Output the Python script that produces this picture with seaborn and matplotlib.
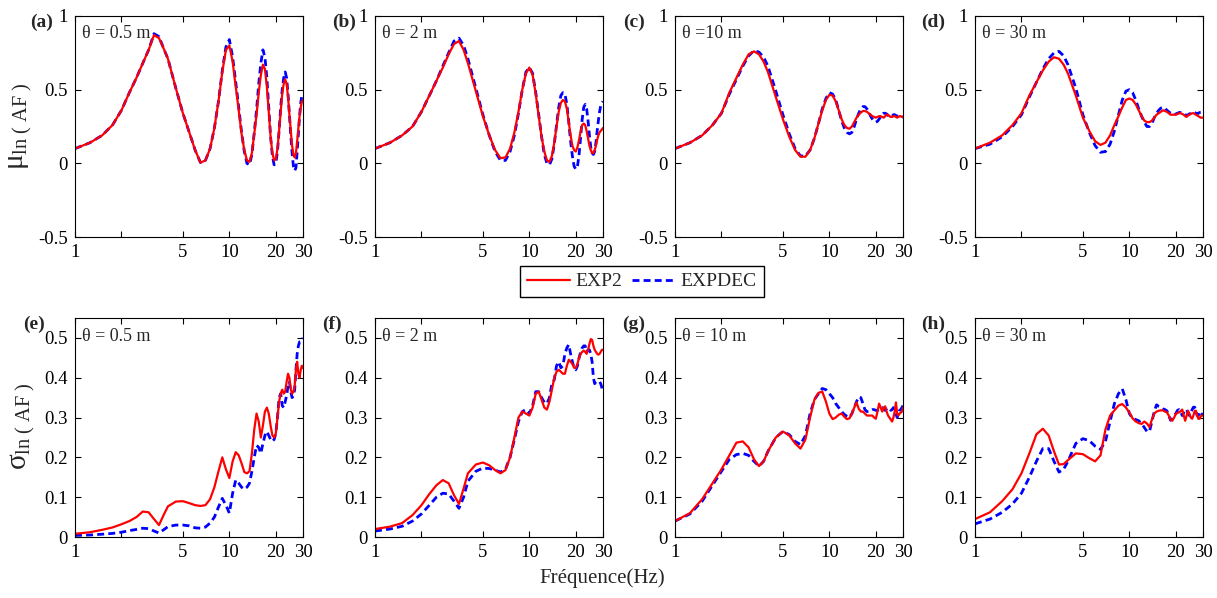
import numpy as np
import pandas as pd
import seaborn as sns
import matplotlib
matplotlib.use("Agg")
import matplotlib.pyplot as plt
from matplotlib.lines import Line2D
from matplotlib.ticker import FixedLocator, NullFormatter

## Data (frequency grid shared by all panels)
freq = [1, 1.25, 1.5, 1.75, 2, 2.25, 2.5, 2.75, 3, 3.25, 3.5, 3.75, 4,
        4.5, 5, 5.5, 6, 6.5, 7, 7.5, 8,
        8.5, 9, 9.5, 10, 10.5, 11, 11.5, 12, 12.5, 13,
        13.5, 14, 14.5, 15, 15.5, 16, 16.5, 17, 17.5, 18,
        18.5, 19, 19.5, 20, 20.5, 21, 21.5, 22, 22.5, 23,
        23.5, 24, 24.5, 25, 25.5, 26, 26.5, 27, 27.5, 28,
        28.5, 29, 29.5, 30]

# mean of ln(AF)
mu_exp2_05 = [0.10, 0.14, 0.19, 0.26, 0.36, 0.48, 0.58, 0.68, 0.77, 0.87, 0.85, 0.78, 0.71,
              0.51, 0.34, 0.21, 0.09, 0.005, 0.02, 0.10, 0.24,
              0.42, 0.62, 0.77, 0.80, 0.69, 0.52, 0.36, 0.20, 0.09, 0.02,
              0.01, 0.07, 0.20, 0.33, 0.48, 0.60, 0.67, 0.64, 0.52, 0.35,
              0.18, 0.07, 0.02, 0.03, 0.10, 0.22, 0.35, 0.47, 0.54, 0.57,
              0.54, 0.45, 0.33, 0.22, 0.12, 0.06, 0.04, 0.07, 0.15, 0.24,
              0.32, 0.38, 0.42, 0.43]
mu_expdec_05 = [0.10, 0.14, 0.19, 0.26, 0.36, 0.48, 0.58, 0.68, 0.77, 0.88, 0.86, 0.78, 0.71,
                0.51, 0.34, 0.21, 0.09, 0.005, 0.02, 0.10, 0.24,
                0.42, 0.63, 0.79, 0.84, 0.72, 0.55, 0.38, 0.21, 0.08, 0.00,
                -0.01, 0.06, 0.21, 0.36, 0.54, 0.68, 0.77, 0.72, 0.58, 0.38,
                0.18, 0.05, -0.01, 0.00, 0.08, 0.22, 0.38, 0.50, 0.58, 0.62,
                0.58, 0.47, 0.33, 0.19, 0.07, -0.02, -0.05, -0.03, 0.08, 0.20,
                0.32, 0.41, 0.46, 0.47]
mu_exp2_2 = [0.10, 0.14, 0.19, 0.25, 0.35, 0.46, 0.56, 0.65, 0.74, 0.81, 0.83, 0.77, 0.68,
             0.49, 0.32, 0.19, 0.09, 0.035, 0.04, 0.10, 0.21,
             0.35, 0.50, 0.61, 0.65, 0.60, 0.47, 0.32, 0.18, 0.08, 0.02,
             0.01, 0.05, 0.14, 0.25, 0.35, 0.41, 0.43, 0.42, 0.37, 0.28,
             0.19, 0.12, 0.09, 0.08, 0.11, 0.16, 0.22, 0.26, 0.27, 0.26,
             0.22, 0.17, 0.12, 0.09, 0.07, 0.07, 0.09, 0.12, 0.16, 0.19,
             0.21, 0.22, 0.23, 0.24]
mu_expdec_2 = [0.10, 0.14, 0.19, 0.25, 0.35, 0.46, 0.56, 0.66, 0.75, 0.83, 0.85, 0.80, 0.71,
               0.51, 0.33, 0.19, 0.08, 0.02, 0.02, 0.08, 0.19,
               0.34, 0.50, 0.62, 0.65, 0.61, 0.48, 0.33, 0.18, 0.06, 0.00,
               -0.01, 0.03, 0.13, 0.26, 0.38, 0.46, 0.48, 0.47, 0.40, 0.28,
               0.15, 0.05, -0.02, -0.04, -0.02, 0.06, 0.18, 0.30, 0.38, 0.40,
               0.37, 0.29, 0.19, 0.11, 0.07, 0.06, 0.08, 0.14, 0.22, 0.29,
               0.35, 0.39, 0.41, 0.42]
mu_exp2_10 = [0.10, 0.14, 0.19, 0.26, 0.34, 0.48, 0.58, 0.67, 0.74, 0.76, 0.74, 0.69, 0.62,
              0.45, 0.30, 0.18, 0.09, 0.045, 0.045, 0.09, 0.17,
              0.27, 0.36, 0.43, 0.465, 0.46, 0.42, 0.36, 0.30, 0.26, 0.24,
              0.235, 0.25, 0.28, 0.31, 0.33, 0.345, 0.355, 0.355, 0.35, 0.34,
              0.33, 0.32, 0.315, 0.31, 0.315, 0.32, 0.32, 0.315, 0.31, 0.32,
              0.33, 0.33, 0.32, 0.315, 0.315, 0.32, 0.32, 0.315, 0.31, 0.315,
              0.32, 0.32, 0.315, 0.315]
mu_expdec_10 = [0.10, 0.14, 0.19, 0.26, 0.34, 0.47, 0.57, 0.66, 0.73, 0.765, 0.755, 0.72, 0.66,
                0.49, 0.33, 0.20, 0.10, 0.05, 0.05, 0.09, 0.17,
                0.27, 0.37, 0.44, 0.48, 0.47, 0.43, 0.36, 0.29, 0.24, 0.21,
                0.20, 0.21, 0.25, 0.30, 0.34, 0.37, 0.385, 0.385, 0.37, 0.35,
                0.32, 0.30, 0.285, 0.28, 0.285, 0.30, 0.315, 0.33, 0.34, 0.34,
                0.335, 0.325, 0.315, 0.315, 0.32, 0.33, 0.33, 0.325, 0.32, 0.32,
                0.32, 0.315, 0.315, 0.315]
mu_exp2_30 = [0.10, 0.14, 0.19, 0.26, 0.34, 0.46, 0.55, 0.63, 0.69, 0.72, 0.71, 0.67, 0.61,
              0.46, 0.31, 0.22, 0.15, 0.125, 0.14, 0.19, 0.26,
              0.32, 0.38, 0.43, 0.44, 0.43, 0.40, 0.36, 0.32, 0.29, 0.28,
              0.28, 0.29, 0.31, 0.33, 0.34, 0.35, 0.36, 0.355, 0.35, 0.34,
              0.33, 0.33, 0.33, 0.33, 0.335, 0.34, 0.34, 0.335, 0.33, 0.32,
              0.315, 0.325, 0.33, 0.335, 0.34, 0.34, 0.335, 0.33, 0.325, 0.32,
              0.315, 0.31, 0.31, 0.31]
mu_expdec_30 = [0.10, 0.13, 0.18, 0.25, 0.33, 0.45, 0.55, 0.64, 0.71, 0.75, 0.76, 0.73, 0.67,
                0.51, 0.33, 0.21, 0.12, 0.075, 0.08, 0.13, 0.22,
                0.33, 0.43, 0.49, 0.50, 0.48, 0.43, 0.37, 0.32, 0.28, 0.25,
                0.25, 0.27, 0.31, 0.34, 0.36, 0.375, 0.38, 0.375, 0.36, 0.35,
                0.34, 0.335, 0.33, 0.335, 0.34, 0.345, 0.345, 0.34, 0.335, 0.33,
                0.325, 0.33, 0.335, 0.34, 0.345, 0.35, 0.345, 0.34, 0.335, 0.34,
                0.345, 0.345, 0.345, 0.345]

# standard deviation of ln(AF)
sd_exp2_05 = [0.008, 0.012, 0.018, 0.024, 0.032, 0.04, 0.05, 0.064, 0.062, 0.045, 0.03, 0.055, 0.077,
              0.089, 0.09, 0.085, 0.08, 0.078, 0.08, 0.095, 0.125,
              0.165, 0.20, 0.17, 0.148, 0.19, 0.213, 0.205, 0.185, 0.163, 0.16,
              0.165, 0.21, 0.27, 0.31, 0.29, 0.25, 0.28, 0.315, 0.325, 0.31,
              0.28, 0.255, 0.25, 0.26, 0.30, 0.34, 0.36, 0.37, 0.36, 0.365,
              0.39, 0.41, 0.40, 0.37, 0.36, 0.365, 0.38, 0.42, 0.44, 0.41,
              0.40, 0.42, 0.43, 0.425]
sd_expdec_05 = [0.004, 0.005, 0.007, 0.009, 0.012, 0.016, 0.019, 0.022, 0.021, 0.015, 0.01, 0.018, 0.026,
                0.03, 0.03, 0.028, 0.023, 0.022, 0.025, 0.035, 0.05,
                0.075, 0.097, 0.08, 0.06, 0.11, 0.143, 0.135, 0.125, 0.12, 0.125,
                0.135, 0.165, 0.20, 0.23, 0.225, 0.21, 0.235, 0.255, 0.265, 0.255,
                0.245, 0.24, 0.245, 0.26, 0.30, 0.35, 0.36, 0.33, 0.325, 0.34,
                0.355, 0.38, 0.39, 0.365, 0.35, 0.355, 0.37, 0.42, 0.46, 0.48,
                0.49, 0.49, 0.495, 0.50]
sd_exp2_2 = [0.02, 0.026, 0.035, 0.055, 0.08, 0.108, 0.13, 0.143, 0.135, 0.105, 0.083, 0.122, 0.16,
             0.182, 0.187, 0.18, 0.168, 0.16, 0.168, 0.2, 0.25,
             0.3, 0.315, 0.31, 0.305, 0.325, 0.36, 0.365, 0.345, 0.325, 0.32,
             0.34, 0.37, 0.4, 0.415, 0.42, 0.415, 0.41, 0.41, 0.43, 0.445,
             0.44, 0.435, 0.425, 0.425, 0.435, 0.45, 0.46, 0.465, 0.468, 0.465,
             0.46, 0.47, 0.485, 0.497, 0.495, 0.48, 0.47, 0.465, 0.46, 0.458,
             0.46, 0.465, 0.47, 0.47]
sd_expdec_2 = [0.015, 0.02, 0.027, 0.04, 0.058, 0.08, 0.10, 0.11, 0.108, 0.09, 0.072, 0.10, 0.14,
               0.165, 0.173, 0.172, 0.168, 0.163, 0.17, 0.2, 0.245,
               0.29, 0.315, 0.32, 0.31, 0.33, 0.365, 0.365, 0.35, 0.338, 0.335,
               0.35, 0.385, 0.395, 0.43, 0.44, 0.425, 0.43, 0.46, 0.475, 0.483,
               0.46, 0.44, 0.425, 0.42, 0.43, 0.45, 0.465, 0.475, 0.48, 0.48,
               0.465, 0.47, 0.47, 0.46, 0.44, 0.40, 0.385, 0.39, 0.39, 0.39,
               0.39, 0.385, 0.375, 0.365]
sd_exp2_10 = [0.04, 0.06, 0.095, 0.135, 0.17, 0.205, 0.237, 0.24, 0.225, 0.195, 0.178, 0.19, 0.215,
              0.25, 0.265, 0.255, 0.235, 0.222, 0.245, 0.30, 0.345,
              0.362, 0.365, 0.34, 0.31, 0.296, 0.30, 0.307, 0.31, 0.302, 0.296,
              0.298, 0.31, 0.325, 0.338, 0.322, 0.315, 0.315, 0.31, 0.305, 0.305,
              0.305, 0.305, 0.30, 0.297, 0.315, 0.335, 0.325, 0.315, 0.325, 0.328,
              0.315, 0.305, 0.30, 0.295, 0.29, 0.30, 0.315, 0.338, 0.31, 0.305,
              0.31, 0.312, 0.315, 0.325]
sd_expdec_10 = [0.04, 0.058, 0.09, 0.13, 0.165, 0.195, 0.207, 0.21, 0.205, 0.19, 0.178, 0.19, 0.215,
                0.25, 0.265, 0.257, 0.24, 0.232, 0.255, 0.31, 0.345,
                0.36, 0.373, 0.37, 0.36, 0.35, 0.335, 0.325, 0.315, 0.308, 0.303,
                0.30, 0.31, 0.325, 0.34, 0.352, 0.35, 0.335, 0.32, 0.315, 0.315,
                0.318, 0.32, 0.32, 0.318, 0.318, 0.32, 0.322, 0.325, 0.32, 0.318,
                0.322, 0.325, 0.322, 0.318, 0.32, 0.325, 0.32, 0.31, 0.30, 0.31,
                0.318, 0.32, 0.325, 0.33]
sd_exp2_30 = [0.045, 0.062, 0.09, 0.12, 0.16, 0.21, 0.258, 0.272, 0.255, 0.215, 0.182, 0.183, 0.193,
              0.21, 0.208, 0.198, 0.19, 0.205, 0.27, 0.305, 0.318,
              0.33, 0.334, 0.325, 0.313, 0.298, 0.29, 0.286, 0.284, 0.29, 0.285,
              0.276, 0.295, 0.31, 0.315, 0.317, 0.318, 0.318, 0.315, 0.313, 0.305,
              0.295, 0.292, 0.30, 0.309, 0.312, 0.313, 0.316, 0.32, 0.305, 0.292,
              0.305, 0.317, 0.31, 0.30, 0.297, 0.305, 0.317, 0.317, 0.305, 0.297,
              0.297, 0.303, 0.305, 0.305]
sd_expdec_30 = [0.033, 0.045, 0.062, 0.083, 0.11, 0.15, 0.19, 0.222, 0.222, 0.19, 0.163, 0.17, 0.19,
                0.235, 0.247, 0.242, 0.228, 0.22, 0.24, 0.29, 0.335,
                0.36, 0.372, 0.345, 0.31, 0.298, 0.295, 0.292, 0.285, 0.275, 0.265,
                0.265, 0.29, 0.315, 0.332, 0.328, 0.326, 0.322, 0.32, 0.317, 0.305,
                0.293, 0.298, 0.305, 0.31, 0.318, 0.32, 0.315, 0.305, 0.312, 0.32,
                0.32, 0.31, 0.305, 0.312, 0.32, 0.326, 0.326, 0.315, 0.305, 0.305,
                0.315, 0.31, 0.308, 0.309]

theta_labels = ["θ = 0.5 m", "θ = 2 m", "θ =10 m", "θ = 30 m",
                "θ = 0.5 m", "θ = 2 m", "θ = 10 m", "θ = 30 m"]
panel_letters = ["(a)", "(b)", "(c)", "(d)", "(e)", "(f)", "(g)", "(h)"]
models = ["EXP2", "EXPDEC"]

panels = [
    ("mu", mu_exp2_05, mu_expdec_05), ("mu", mu_exp2_2, mu_expdec_2),
    ("mu", mu_exp2_10, mu_expdec_10), ("mu", mu_exp2_30, mu_expdec_30),
    ("sd", sd_exp2_05, sd_expdec_05), ("sd", sd_exp2_2, sd_expdec_2),
    ("sd", sd_exp2_10, sd_expdec_10), ("sd", sd_exp2_30, sd_expdec_30),
]

frames = []
for i, (stat, exp2, expdec) in enumerate(panels):
    for name, vals in zip(models, [exp2, expdec]):
        frames.append(pd.DataFrame({"freq": freq, "value": vals, "model": name, "panel": i}))
df = pd.concat(frames, ignore_index=True)

## Style
sns.set_style("ticks")
plt.rcParams.update({
    "font.family": ["Liberation Serif", "DejaVu Serif"],
    "mathtext.fontset": "custom",
    "mathtext.rm": "Liberation Serif",
    "mathtext.it": "Liberation Serif:italic",
    "mathtext.bf": "Liberation Serif:bold",
    "axes.unicode_minus": False,
    "axes.edgecolor": "black",
    "axes.linewidth": 0.8,
    "xtick.direction": "in",
    "ytick.direction": "in",
    "xtick.top": True,
    "ytick.right": True,
    "xtick.color": "black",
    "ytick.color": "black",
})

palette = {"EXP2": "red", "EXPDEC": "blue"}
dashes = {"EXP2": "", "EXPDEC": (2.5, 1.5)}

fig = plt.figure(figsize=(12.17, 5.98), dpi=100)

W, H = 1217, 598
lefts = [75, 375, 675, 975]
letter_x = [-0.147, -0.136, -0.18, -0.184, -0.18, -0.19, -0.18, -0.184]

for i in range(8):
    row, col = divmod(i, 4)
    if row == 0:
        top, bottom = 16, 237
    else:
        top, bottom = 318, 537
    ax = fig.add_axes([lefts[col] / W, 1 - bottom / H, 228 / W, (bottom - top) / H])

    sns.lineplot(
        data=df[df["panel"] == i], x="freq", y="value",
        hue="model", style="model",
        hue_order=["EXPDEC", "EXP2"], style_order=["EXPDEC", "EXP2"],
        palette=palette, dashes=dashes,
        linewidth=1.6, estimator=None, sort=False,
        legend=False, ax=ax,
    )
    for line in ax.lines:
        if line.get_color() == "blue":
            line.set_linewidth(2.0)

    ax.set_xscale("log")
    ax.set_xlim(1, 30)
    ax.xaxis.set_major_locator(FixedLocator([1, 5, 10, 20, 30]))
    ax.set_xticklabels(["1", "5", "10", "20", "30"])
    ax.xaxis.set_minor_locator(FixedLocator([2]))
    ax.xaxis.set_minor_formatter(NullFormatter())

    if row == 0:
        ax.set_ylim(-0.5, 1)
        ax.set_yticks([-0.5, 0, 0.5, 1])
        ax.set_yticklabels(["-0.5", "0", "0.5", "1"])
        ty = 0.923
    else:
        ax.set_ylim(0, 0.55)
        ax.set_yticks([0, 0.1, 0.2, 0.3, 0.4, 0.5])
        ax.set_yticklabels(["0", "0.1", "0.2", "0.3", "0.4", "0.5"])
        ty = 0.915

    ax.tick_params(which="major", length=4, width=0.8, labelsize=13.5, pad=5)
    ax.tick_params(which="minor", length=4, width=0.8)
    ax.set_xlabel("")
    ax.set_ylabel("")
    for s in ax.spines.values():
        s.set_visible(True)
        s.set_color("black")

    ax.text(0.03, ty, theta_labels[i], transform=ax.transAxes,
            ha="left", va="center", fontsize=13)
    ax.text(letter_x[i], 0.97, panel_letters[i], transform=ax.transAxes,
            ha="center", va="center", fontsize=14, fontweight="bold")

fig.text(21 / W, 1 - 126 / H, r"$\mathrm{\mu}_{\mathrm{ln\ (\ AF\ )}}$",
         rotation=90, ha="center", va="center", fontsize=21)
fig.text(23 / W, 1 - 426 / H, r"$\mathrm{\sigma}_{\mathrm{ln\ (\ AF\ )}}$",
         rotation=90, ha="center", va="center", fontsize=21)
fig.text(602 / W, 1 - 578 / H, "Fréquence(Hz)", ha="center", va="center", fontsize=15)

handles = [Line2D([], [], color="red", lw=1.6),
           Line2D([], [], color="blue", lw=2.0, dashes=(2.5, 1.5))]
leg = fig.legend(handles, models, loc="center",
                 bbox_to_anchor=(642 / W, 1 - 281.5 / H), ncol=2,
                 frameon=True, fancybox=False, framealpha=1, edgecolor="black",
                 fontsize=14, handlelength=2.2, handletextpad=0.3,
                 columnspacing=0.5, borderpad=0.35)
leg.get_frame().set_linewidth(1.0)

fig.savefig("out.png", dpi=100)
